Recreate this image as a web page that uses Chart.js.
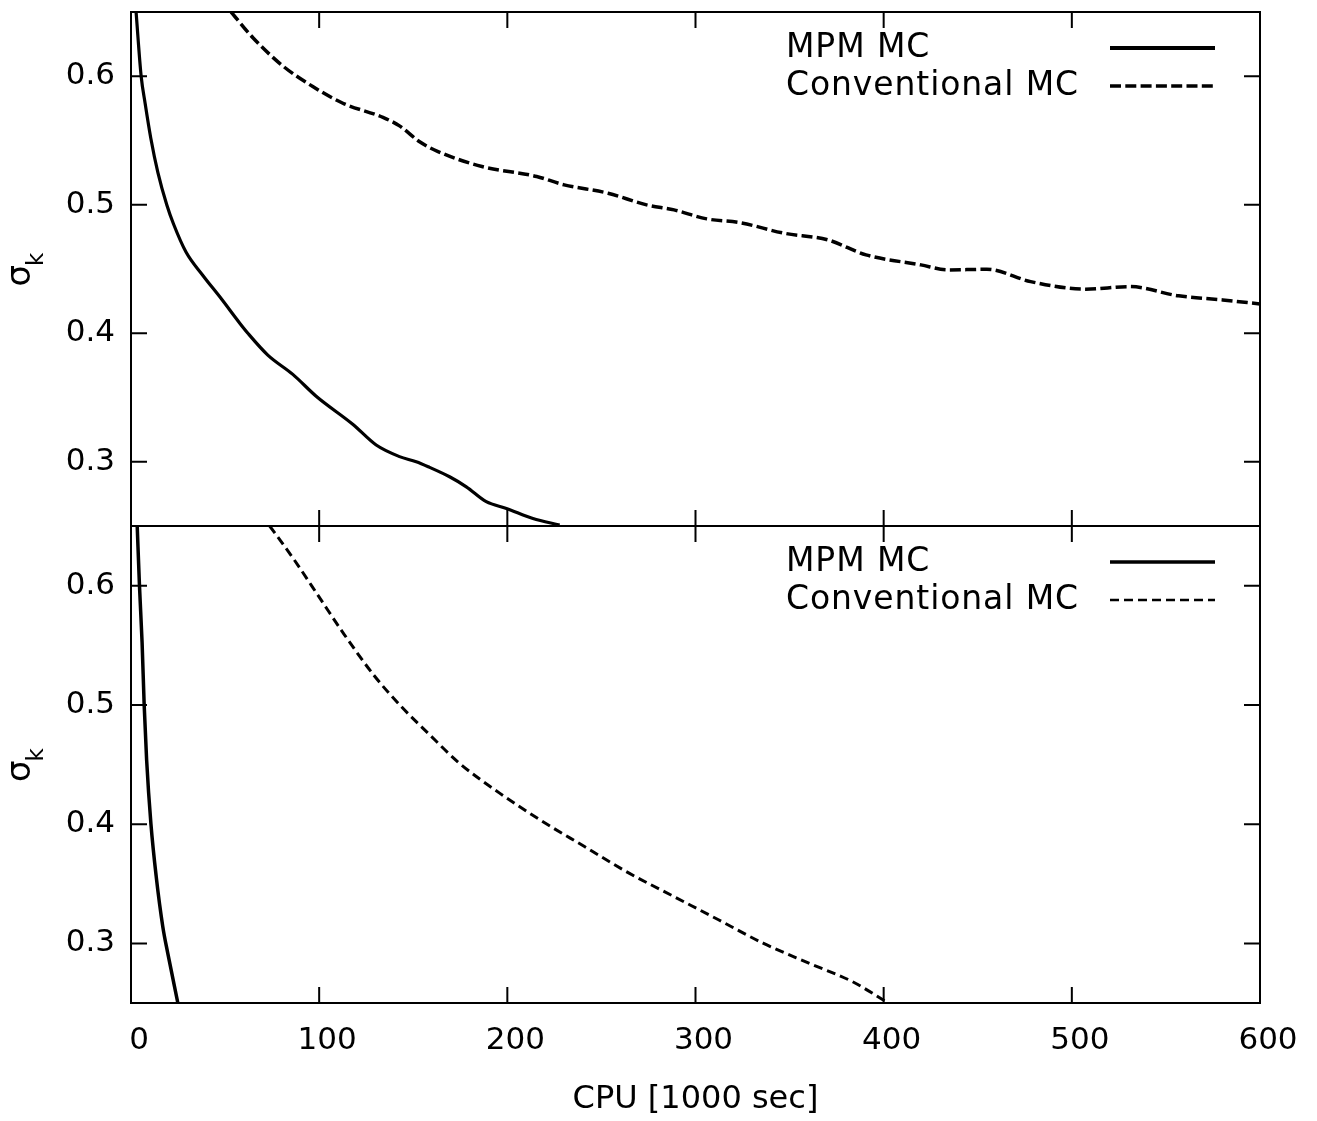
<!DOCTYPE html>
<html>
<head>
<meta charset="utf-8">
<script src="https://cdn.jsdelivr.net/npm/chart.js@4.4.1/dist/chart.umd.min.js"></script>
<style>
  html, body { margin: 0; padding: 0; background: #fff; }
  #wrap { position: relative; width: 1317px; height: 1121px; }
  #wrap canvas { position: absolute; left: 0; top: 0; }
</style>
</head>
<body>
<div id="wrap">
  <canvas id="lowerChart" width="1317" height="1121"></canvas>
  <canvas id="upperChart" width="1317" height="1121"></canvas>
</div>
<script>
// axis ticks shared by both panels
const xTicks = [0, 100, 200, 300, 400, 500, 600];
const yTicks = [0.3, 0.4, 0.5, 0.6];
const seriesNames = ['MPM MC', 'Conventional MC'];

// upper panel
const mpmUpperX = [2.7, 5.4, 7.5, 10.5, 14.3, 19, 22.6, 29.3, 38.2, 47.9, 57.7, 62.1, 72.7, 86, 98.4, 118, 130.3, 142.7, 151.6, 158.7, 169.3, 178.2, 188.8, 199.5, 213.6, 227.8];
const mpmUpperY = [0.65, 0.6, 0.579, 0.552, 0.525, 0.5, 0.485, 0.463, 0.445, 0.427, 0.408, 0.4, 0.383, 0.368, 0.351, 0.329, 0.313, 0.304, 0.3, 0.2956, 0.2883, 0.2805, 0.2689, 0.2637, 0.2559, 0.2507];
const convUpperX = [53.2, 64.8, 80.7, 96.6, 112.6, 133.9, 142.7, 153.4, 163.2, 186.5, 215.6, 230.2, 253.5, 274, 288.6, 306, 323.5, 346.9, 370.2, 390.6, 419.8, 434.3, 454.8, 478.1, 507.3, 530.6, 556.8, 580.2, 600];
const convUpperY = [0.65, 0.63, 0.608, 0.592, 0.579, 0.568, 0.5614, 0.549, 0.5414, 0.5298, 0.522, 0.5155, 0.509, 0.4999, 0.496, 0.489, 0.4861, 0.4779, 0.4727, 0.461, 0.4532, 0.4493, 0.4498, 0.4402, 0.4343, 0.4363, 0.4291, 0.4259, 0.4228];

// lower panel
const mpmLowerX = [3.3, 4.5, 5.9, 7.0, 8.3, 10.6, 13.4, 16.9, 19.5, 24.9];
const mpmLowerY = [0.65, 0.6, 0.552, 0.5, 0.454, 0.4, 0.356, 0.314, 0.292, 0.25];
const convLowerX = [73.7, 86.8, 101, 112.9, 129.5, 143.7, 157.9, 174.6, 195.9, 217.3, 241, 264.7, 288.5, 312.2, 335.9, 359.6, 383.3, 401.1];
const convLowerY = [0.65, 0.6215, 0.588, 0.56, 0.524, 0.4985, 0.4762, 0.451, 0.426, 0.4036, 0.3812, 0.3589, 0.3393, 0.3198, 0.3002, 0.2838, 0.268, 0.2513];

const FONT = 'DejaVu Sans';

function pts(xs, ys) {
  return xs.map((x, i) => ({ x: x, y: ys[i] }));
}

// frame with inward ticks, gnuplot-like legend and the sigma_k label
const framePlugin = {
  id: 'frame',
  afterDatasetsDraw(chart) {
    const { ctx, chartArea: a } = chart;
    const x = chart.scales.x, y = chart.scales.y;
    ctx.save();
    ctx.strokeStyle = '#000';
    ctx.lineWidth = 2;
    ctx.strokeRect(a.left, a.top, a.right - a.left, a.bottom - a.top);
    ctx.beginPath();
    xTicks.forEach(v => {
      const px = x.getPixelForValue(v);
      ctx.moveTo(px, a.top); ctx.lineTo(px, a.top + 16);
      ctx.moveTo(px, a.bottom); ctx.lineTo(px, a.bottom - 16);
    });
    yTicks.forEach(v => {
      const py = y.getPixelForValue(v);
      ctx.moveTo(a.left, py); ctx.lineTo(a.left + 16, py);
      ctx.moveTo(a.right, py); ctx.lineTo(a.right - 16, py);
    });
    ctx.stroke();

    // legend
    ctx.font = '33px "' + FONT + '"';
    ctx.letterSpacing = '0.9px';
    ctx.fillStyle = '#000';
    ctx.textAlign = 'left';
    ctx.textBaseline = 'middle';
    chart.data.datasets.forEach((ds, i) => {
      const ry = a.top + 36 + i * 38;
      ctx.fillText(ds.label, a.right - 474, ry);
      ctx.beginPath();
      ctx.lineWidth = ds.legendWidth || ds.borderWidth;
      ctx.setLineDash(ds.borderDash || []);
      ctx.moveTo(a.right - 150, ry);
      ctx.lineTo(a.right - 45, ry);
      ctx.stroke();
    });
    ctx.setLineDash([]);
    ctx.letterSpacing = '0px';

    // y label: sigma with subscript k, rotated
    const cy = (a.top + a.bottom) / 2;
    ctx.translate(a.left - 101, cy);
    ctx.rotate(-Math.PI / 2);
    ctx.textBaseline = 'alphabetic';
    ctx.font = '34px "' + FONT + '"';
    const w1 = ctx.measureText('σ').width;
    ctx.font = '23px "' + FONT + '"';
    const w2 = ctx.measureText('k').width;
    const start = -(w1 + w2) / 2;
    ctx.font = '34px "' + FONT + '"';
    ctx.fillText('σ', start, 0);
    ctx.font = '23px "' + FONT + '"';
    ctx.fillText('k', start + w1 - 1, 13);
    ctx.restore();
  }
};

function makePanel(id, sets, padTop, padBottom, showX) {
  return new Chart(document.getElementById(id), {
    type: 'line',
    data: { datasets: sets },
    options: {
      responsive: false,
      animation: false,
      devicePixelRatio: 1,
      layout: { padding: { left: 0, right: 57, top: padTop, bottom: padBottom } },
      plugins: { legend: { display: false }, tooltip: { enabled: false } },
      elements: { point: { radius: 0 }, line: { cubicInterpolationMode: 'monotone' } },
      scales: {
        x: {
          type: 'linear', min: 0, max: 600,
          display: showX,
          afterBuildTicks: s => { s.ticks = xTicks.map(v => ({ value: v })); },
          afterFit: s => {
            if (showX) s.height = 118;
            s.paddingLeft = 0; s.paddingRight = 0;
          },
          grid: { display: false, drawTicks: false },
          border: { display: false },
          ticks: { font: { family: FONT, size: 31 }, color: '#000', padding: 19, labelOffset: 8, maxRotation: 0 },
          title: { display: true, text: 'CPU [1000 sec]', color: '#000', font: { family: FONT, size: 32 }, padding: { top: 0, bottom: 2 } }
        },
        y: {
          type: 'linear', min: 0.25, max: 0.65,
          afterBuildTicks: s => { s.ticks = yTicks.map(v => ({ value: v })); },
          afterFit: s => { s.width = 131; s.paddingTop = 0; s.paddingBottom = 0; },
          grid: { display: false, drawTicks: false },
          border: { display: false },
          ticks: { font: { family: FONT, size: 31 }, color: '#000', padding: 16, callback: v => v.toFixed(1) }
        }
      }
    },
    plugins: [framePlugin]
  });
}

makePanel('upperChart', [
  { label: seriesNames[0], data: pts(mpmUpperX, mpmUpperY), borderColor: '#000', borderWidth: 3.2, legendWidth: 4 },
  { label: seriesNames[1], data: pts(convUpperX, convUpperY), borderColor: '#000', borderWidth: 3.5, borderDash: [11, 4.3] }
], 12, 595, false);

makePanel('lowerChart', [
  { label: seriesNames[0], data: pts(mpmLowerX, mpmLowerY), borderColor: '#000', borderWidth: 3.5 },
  { label: seriesNames[1], data: pts(convLowerX, convLowerY), borderColor: '#000', borderWidth: 3, borderDash: [9, 5], legendWidth: 2.5 }
], 526, 0, true);
</script>
</body>
</html>
